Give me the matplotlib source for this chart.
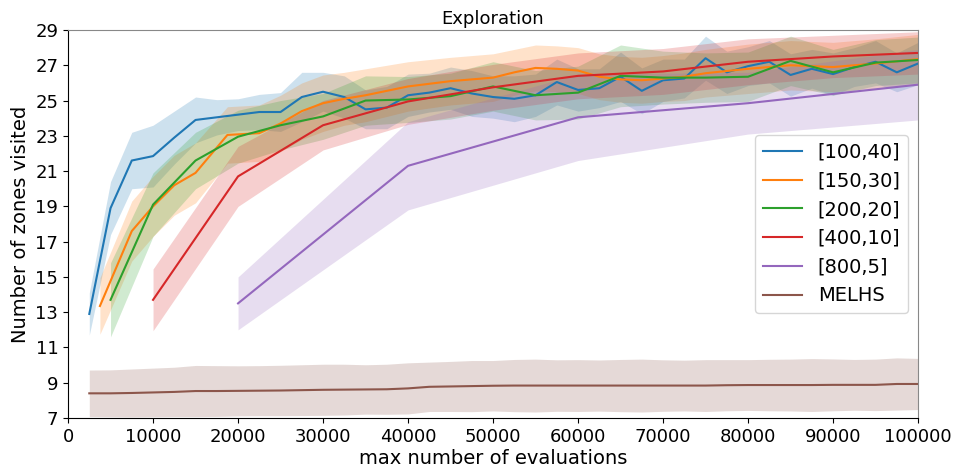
import numpy as np
from matplotlib import pyplot as plt

# series data
x_100_40 = [2500, 5000, 7500, 10000, 12500, 15000, 17500, 20000, 22500, 25000,
            27500, 30000, 32500, 35000, 37500, 40000, 42500, 45000, 47500, 50000,
            52500, 55000, 57500, 60000, 62500, 65000, 67500, 70000, 72500, 75000,
            77500, 80000, 82500, 85000, 87500, 90000, 92500, 95000, 97500, 100000]
y_100_40 = [12.9, 18.9, 21.6, 21.85, 22.9, 23.9, 24.05, 24.2, 24.35, 24.35,
            25.2, 25.5, 25.2, 24.5, 24.6, 25.3, 25.45, 25.7, 25.4, 25.2,
            25.1, 25.3, 26.05, 25.6, 25.7, 26.35, 25.55, 26.15, 26.25, 27.4,
            26.6, 26.95, 27.2, 26.45, 26.8, 26.5, 26.9, 27.2, 26.6, 27.1]
s_100_40 = [1.2, 1.5, 1.6, 1.75, 1.5, 1.3, 1.0, 0.9, 1.0, 1.1,
            1.4, 1.1, 1.2, 1.1, 1.2, 1.2, 1.1, 1.2, 1.3, 1.2,
            1.3, 1.2, 1.3, 1.2, 1.1, 1.4, 1.3, 1.2, 1.1, 1.25,
            1.2, 1.1, 1.2, 1.2, 1.1, 1.2, 1.1, 1.2, 1.1, 1.2]

x_150_30 = [3750, 7500, 10000, 12500, 15000, 18750, 22500, 25000, 27500, 30000,
            32500, 35000, 37500, 40000, 45000, 50000, 52500, 55000, 57500, 60000,
            62500, 65000, 67500, 70000, 72500, 75000, 80000, 85000, 90000, 95000, 100000]
y_150_30 = [13.35, 17.6, 19.0, 20.2, 20.9, 23.05, 23.15, 23.7, 24.4, 24.85,
            25.1, 25.3, 25.55, 25.8, 26.1, 26.3, 26.6, 26.85, 26.8, 26.7,
            26.35, 26.2, 26.15, 26.25, 26.35, 26.55, 26.8, 27.0, 26.9, 27.1, 27.35]
s_150_30 = [1.6, 1.7, 1.7, 1.7, 1.7, 1.6, 1.6, 1.6, 1.6, 1.6,
            1.5, 1.5, 1.45, 1.4, 1.35, 1.35, 1.3, 1.3, 1.3, 1.3,
            1.3, 1.3, 1.3, 1.3, 1.35, 1.35, 1.4, 1.4, 1.4, 1.4, 1.4]

x_200_20 = [5000, 10000, 15000, 20000, 25000, 30000, 35000, 40000, 45000, 50000,
            55000, 60000, 65000, 70000, 75000, 80000, 85000, 90000, 95000, 100000]
y_200_20 = [13.7, 19.1, 21.6, 22.95, 23.6, 24.1, 25.0, 25.06, 25.25, 25.8,
            25.3, 25.45, 26.4, 26.3, 26.3, 26.35, 27.25, 26.6, 27.15, 27.3]
s_200_20 = [2.1, 1.8, 1.6, 1.5, 1.4, 1.3, 1.4, 1.3, 1.3, 1.4,
            1.4, 1.5, 1.75, 1.5, 1.4, 1.4, 1.4, 1.3, 1.3, 1.3]

x_400_10 = [10000, 20000, 30000, 40000, 50000, 60000, 70000, 80000, 90000, 100000]
y_400_10 = [13.7, 20.7, 23.6, 24.95, 25.75, 26.4, 26.65, 27.2, 27.5, 27.7]
s_400_10 = [1.75, 1.7, 1.4, 1.3, 1.3, 1.3, 1.3, 1.3, 1.2, 1.2]

x_800_5 = [20000, 40000, 60000, 80000, 100000]
y_800_5 = [13.5, 21.3, 24.05, 24.85, 25.9]
s_800_5 = [1.5, 2.5, 2.45, 1.75, 2.0]

x_melhs = x_100_40
y_melhs = [8.4, 8.4, 8.42, 8.45, 8.48, 8.53, 8.53, 8.54, 8.55, 8.56,
           8.58, 8.6, 8.61, 8.62, 8.63, 8.68, 8.77, 8.79, 8.81, 8.83,
           8.84, 8.84, 8.84, 8.84, 8.84, 8.84, 8.84, 8.84, 8.84, 8.84,
           8.86, 8.87, 8.87, 8.87, 8.87, 8.88, 8.88, 8.88, 8.93, 8.93]
s_melhs = [1.32, 1.33, 1.36, 1.38, 1.40, 1.45, 1.44, 1.42, 1.42, 1.43,
           1.44, 1.45, 1.44, 1.40, 1.42, 1.45, 1.40, 1.42, 1.45, 1.43,
           1.48, 1.50, 1.46, 1.47, 1.45, 1.48, 1.50, 1.46, 1.44, 1.47,
           1.45, 1.44, 1.46, 1.47, 1.50, 1.47, 1.44, 1.46, 1.48, 1.45]

series = [
    ("[100,40]", x_100_40, y_100_40, s_100_40, "tab:blue"),
    ("[150,30]", x_150_30, y_150_30, s_150_30, "tab:orange"),
    ("[200,20]", x_200_20, y_200_20, s_200_20, "tab:green"),
    ("[400,10]", x_400_10, y_400_10, s_400_10, "tab:red"),
    ("[800,5]", x_800_5, y_800_5, s_800_5, "tab:purple"),
    ("MELHS", x_melhs, y_melhs, s_melhs, "tab:brown"),
]

fig = plt.figure(figsize=(9.57, 4.68), dpi=100)
ax = fig.add_axes([0.0711, 0.1068, 0.8882, 0.8291])

for name, xs, ys, ss, col in series:
    ys = np.array(ys)
    ss = np.array(ss)
    ax.plot(xs, ys, color=col, label=name, linewidth=1.5)
    ax.fill_between(xs, ys - ss, ys + ss, color=col, alpha=0.22, linewidth=0)

ax.set_xlim(0, 100000)
ax.set_ylim(7, 29)
ax.set_xticks(range(0, 100001, 10000))
ax.set_yticks(range(7, 30, 2))
ax.tick_params(labelsize=13)
ax.set_title("Exploration", fontsize=13, pad=4)
ax.set_xlabel("max number of evaluations", fontsize=14, labelpad=2)
ax.set_ylabel("Number of zones visited", fontsize=14, labelpad=4)
for side in ["top", "right"]:
    ax.spines[side].set_color("#888888")
ax.legend(loc="center right", fontsize=14)

plt.savefig("out.png")
